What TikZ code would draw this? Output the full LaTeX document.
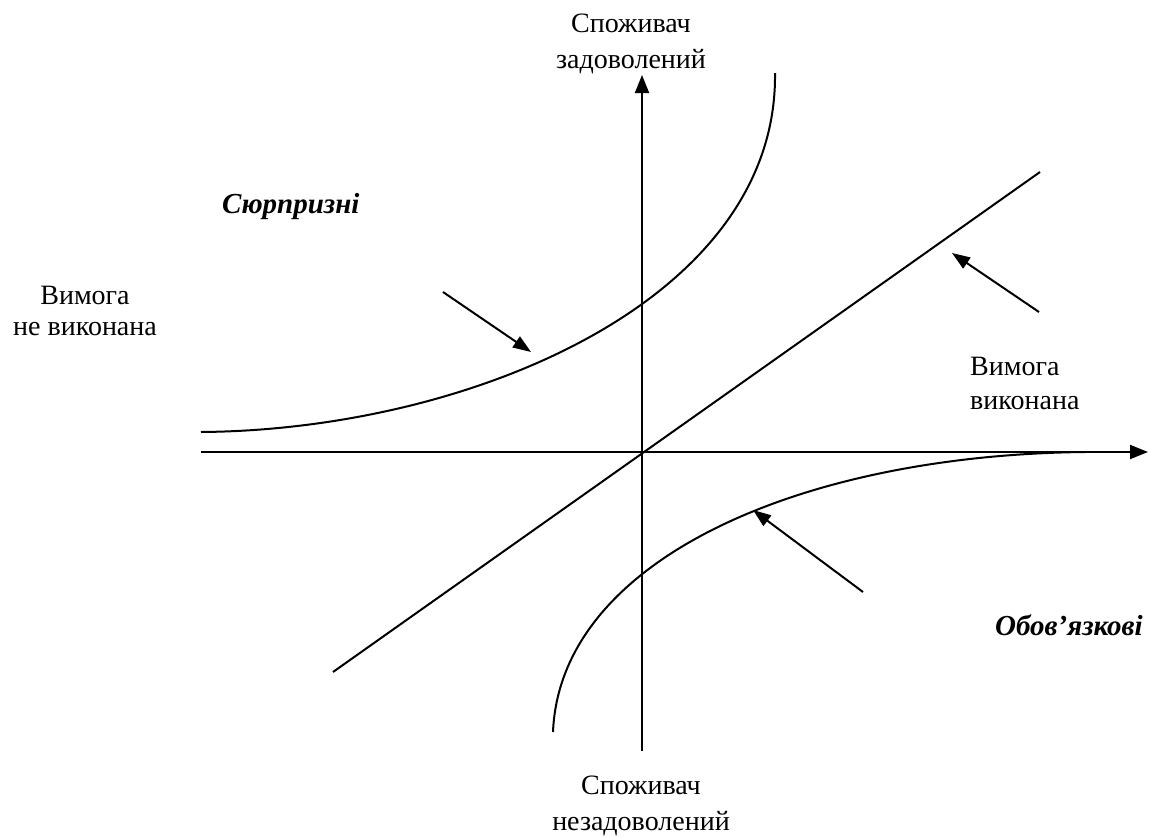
\documentclass[tikz,border=0pt]{standalone}
\usepackage{fontspec}
\setmainfont{Liberation Serif}
\usetikzlibrary{arrows.meta}

\begin{document}
\begin{tikzpicture}[
  x=1pt, y=-1pt,
  font=\fontsize{28}{36}\selectfont,
  every node/.style={inner sep=0pt},
  axis/.style={line width=2pt, -{Triangle[length=18pt,width=14pt]}},
  curve/.style={line width=2pt},
  pointer/.style={line width=2pt, -{Triangle[length=18pt,width=13pt]}},
  caption/.style={align=center},
  kind/.style={font=\fontsize{29}{36}\selectfont\bfseries\itshape}
]
\useasboundingbox (0,0) rectangle (1149,838);
% axes
\coordinate (W) at (201,452);
\coordinate (E) at (1148,452);
\coordinate (S) at (642,751);
\coordinate (N) at (642,75);
\draw[axis] (W) -- (E);
\draw[axis] (S) -- (N);
% diagonal and the two curves
\coordinate (D1) at (333,672);
\coordinate (D2) at (1040,172);
\draw[curve] (D1) -- (D2);
\coordinate (U1) at (201,432);
\coordinate (U2) at (775,73);
\draw[curve] (U1) .. controls (470,430) and (778,300) .. (U2);
\coordinate (L1) at (553,732);
\coordinate (L2) at (1085,452);
\draw[curve] (L1) .. controls (560,560) and (800,455) .. (L2);
% pointers
\coordinate (p1) at (443,292);  \coordinate (q1) at (531,352);
\coordinate (p2) at (1039,312); \coordinate (q2) at (952,253);
\coordinate (p3) at (863,592);  \coordinate (q3) at (753,510);
\foreach \i in {1,2,3}
  \draw[pointer] (p\i) -- (q\i);
% labels
\node[caption] (top) at (631,44) {Споживач\\задоволений};
\node[caption] (bottom) at (641,806) {Споживач\\незадоволений};
\node[caption, font=\fontsize{28}{31}\selectfont] (notmet) at (85,311) {Вимога\\не виконана};
\node[align=left, anchor=west, font=\fontsize{28}{34}\selectfont] (met) at (970,383) {Вимога\\виконана};
\node[kind, anchor=base west] (surprise) at (222,213) {Сюрпризні};
\node[kind, anchor=base west] (mandatory) at (995,635) {Обов’язкові};
\end{tikzpicture}
\end{document}
